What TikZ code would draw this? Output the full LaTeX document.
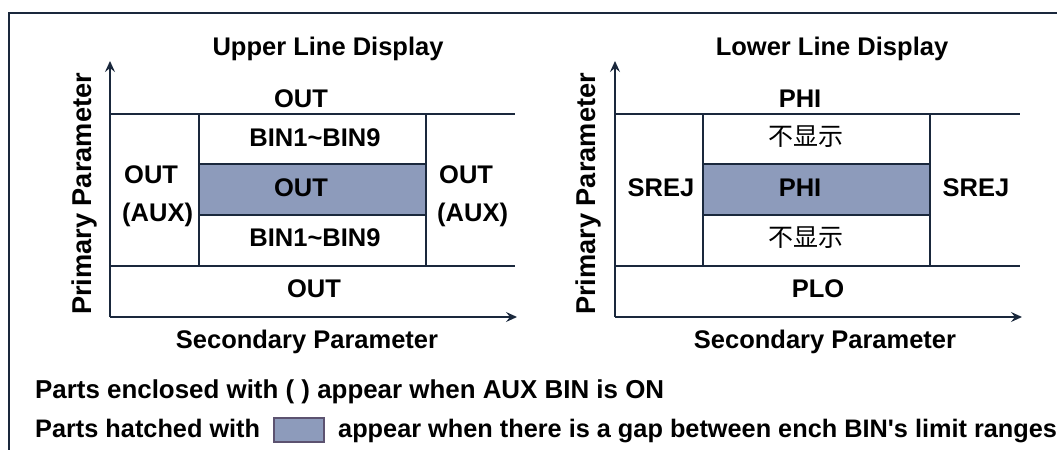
\documentclass[tikz,border=0pt]{standalone}
\usepackage{fontspec}
\setmainfont{Liberation Sans}
\newfontfamily\cjk{Noto Sans CJK SC}
\usetikzlibrary{arrows.meta}
\definecolor{ink}{RGB}{26,40,60}
\definecolor{hatch}{RGB}{141,155,187}
\definecolor{swb}{RGB}{92,82,112}
\begin{document}
\begin{tikzpicture}[x=1pt,y=-1pt,
  lbl/.style={font=\fontsize{25.5}{28}\selectfont\bfseries, inner sep=0pt, anchor=base, text=black},
  plbl/.style={font=\fontsize{27.2}{30}\selectfont\bfseries, inner sep=0pt, anchor=base, text=black, rotate=90},
  note/.style={font=\fontsize{25.3}{28}\selectfont\bfseries, inner sep=0pt, anchor=base west, text=black},
  cjklbl/.style={font=\fontsize{25}{28}\selectfont\cjk, inner sep=0pt, anchor=base, text=black},
  ln/.style={draw=ink, line width=2pt},
  ax/.style={ln, -{Stealth[length=11pt,width=10pt,inset=4pt]}},
  shade/.style={fill=hatch, draw=ink, line width=2pt}]
\useasboundingbox (0,0) rectangle (1057,450);
% frame
\draw[ln] (1057,12.5) -- (9,12.5) -- (9,450);

% ---------- left chart ----------
\fill[shade] (199,163.5) rectangle (426,214.5);
\draw[ln] (110,114) -- (515,114);
\draw[ln] (110,265.5) -- (515,265.5);
\draw[ln] (199,114) -- (199,265.5);
\draw[ln] (426,114) -- (426,265.5);
\coordinate (LO) at (110,317);
\coordinate (LY) at (110,61);
\coordinate (LX) at (517,317);
\draw[ax] (LO) -- (LY);
\draw[ax] (LO) -- (LX);

\node[lbl] (ltitle) at (328,55) {Upper Line Display};
\node[lbl] (lout1) at (301,107) {OUT};
\node[lbl] (lbin1) at (315,146) {BIN1\textasciitilde BIN9};
\node[lbl] (lout2) at (301,196) {OUT};
\node[lbl] (lbin2) at (315,246) {BIN1\textasciitilde BIN9};
\node[lbl] (lout3) at (314,297) {OUT};
\node[lbl, anchor=base west] (laux1a) at (124,183) {OUT};
\node[lbl, anchor=base west] (laux1b) at (122,221) {(AUX)};
\node[lbl, anchor=base west] (laux2a) at (439,183) {OUT};
\node[lbl, anchor=base west] (laux2b) at (437,221) {(AUX)};
\node[plbl] (lprim) at (91,194) {Primary Parameter};
\node[lbl] (lsec) at (307,348) {Secondary Parameter};

% ---------- right chart ----------
\fill[shade] (703,163.5) rectangle (930,214.5);
\draw[ln] (615,114) -- (1020,114);
\draw[ln] (615,265.5) -- (1020,265.5);
\draw[ln] (703,114) -- (703,265.5);
\draw[ln] (930,114) -- (930,265.5);
\coordinate (RO) at (615,317);
\coordinate (RY) at (615,61);
\coordinate (RX) at (1022,317);
\draw[ax] (RO) -- (RY);
\draw[ax] (RO) -- (RX);

\node[lbl] (rtitle) at (832,55) {Lower Line Display};
\node[lbl] (rphi1) at (800,107) {PHI};
\node[cjklbl] (rno1) at (806,145) {不显示};
\node[lbl] (rphi2) at (800,196) {PHI};
\node[cjklbl] (rno2) at (806,246) {不显示};
\node[lbl] (rplo) at (818,297) {PLO};
\node[lbl] (rsrej1) at (661,196) {SREJ};
\node[lbl] (rsrej2) at (976,196) {SREJ};
\node[plbl] (rprim) at (595,194) {Primary Parameter};
\node[lbl] (rsec) at (825,348) {Secondary Parameter};

% ---------- notes ----------
\node[note, font=\fontsize{25.9}{28}\selectfont\bfseries] (n1) at (35,398) {Parts enclosed with ( ) appear when AUX BIN is ON};
\node[note] (n2a) at (35,437) {Parts hatched with};
\node[draw=swb, fill=hatch, line width=1.2pt, minimum width=50pt, minimum height=24pt, inner sep=0pt] (sw) at (299,430) {};
\node[note] (n2b) at (338,437) {appear when there is a gap between ench BIN\textquotesingle s limit ranges};
\end{tikzpicture}
\end{document}
